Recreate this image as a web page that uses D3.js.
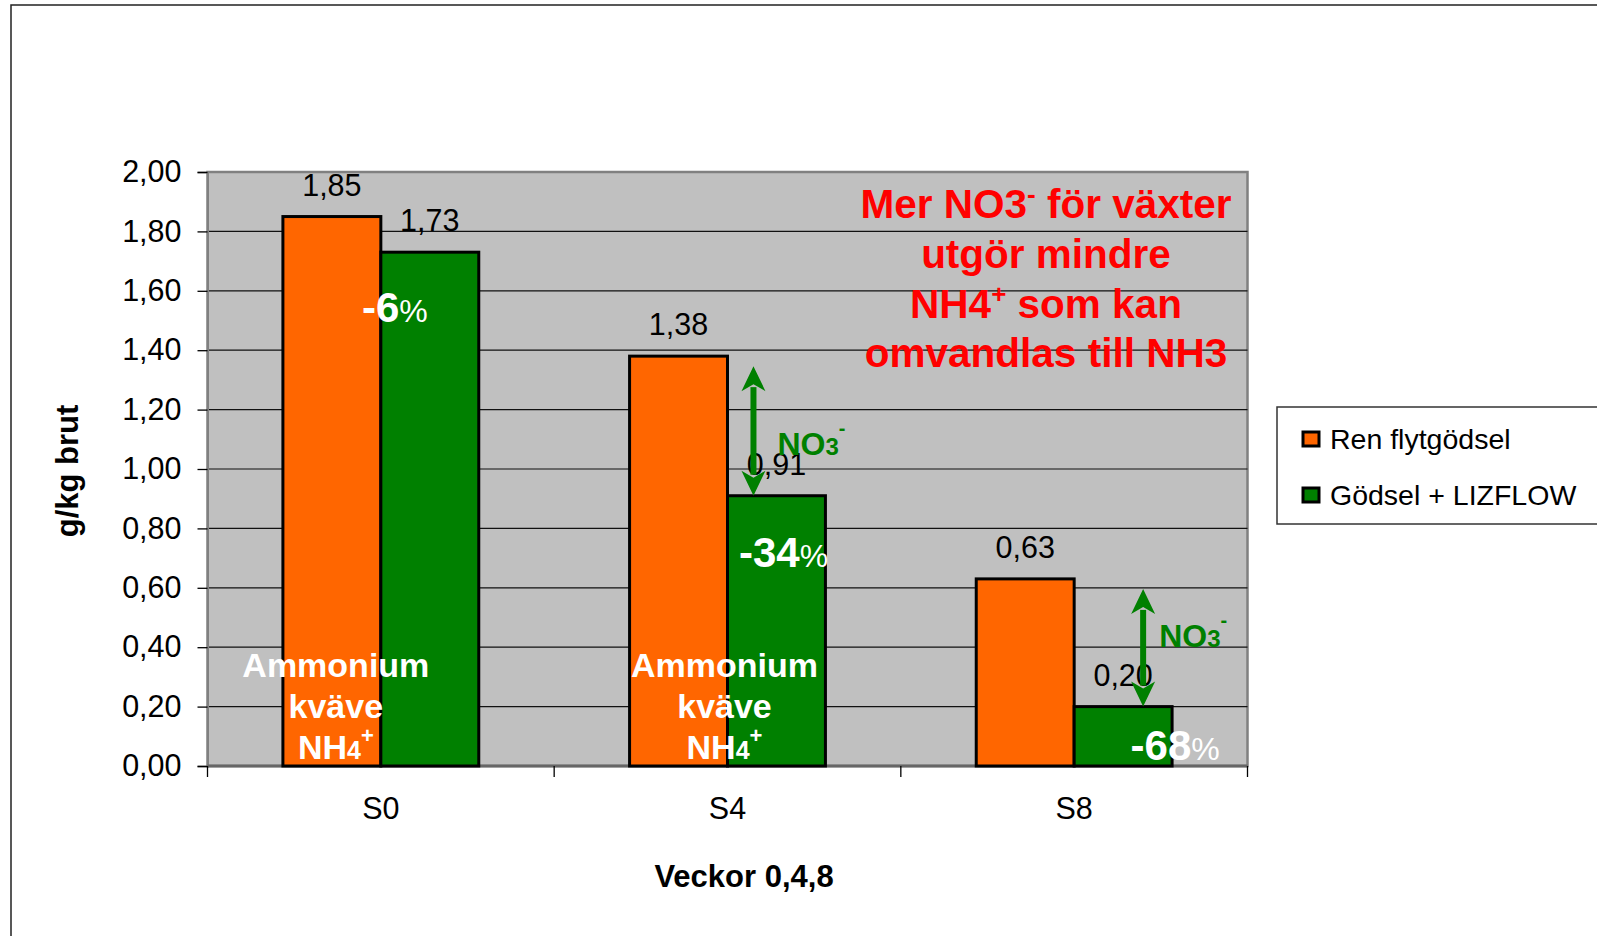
<!DOCTYPE html>
<html>
<head>
<meta charset="utf-8">
<script src="https://cdn.jsdelivr.net/npm/d3@7"></script>
<style>
  body { margin: 0; background: #fff; }
  svg { display: block; font-family: "Liberation Sans", Arial, sans-serif; }
</style>
</head>
<body>
<svg id="chart" width="1597" height="936"></svg>
<script>
// data
const categories = ["S0", "S4", "S8"];
const seriesNames = ["Ren flytgödsel", "Gödsel + LIZFLOW"];
const renValues = [1.85, 1.38, 0.63];
const lizflowValues = [1.73, 0.91, 0.20];
const yTicks = [0, 0.2, 0.4, 0.6, 0.8, 1.0, 1.2, 1.4, 1.6, 1.8, 2.0];
const changeLabels = ["-6", "-34", "-68"];
const colors = ["#ff6600", "#008000"];

const svg = d3.select("#chart");
const margin = { top: 172, left: 207.5, right: 1247.5, bottom: 766 };

// outer chart frame
svg.append("rect")
    .attr("x", 11).attr("y", 5)
    .attr("width", 1700).attr("height", 1000)
    .attr("fill", "#fff")
    .attr("stroke", "#222")
    .attr("stroke-width", 1.5);

const x = d3.scaleBand()
    .domain(categories)
    .range([margin.left, margin.right])
    .padding(0);

const xs = d3.scaleBand()
    .domain(seriesNames)
    .range([0, x.bandwidth()])
    .paddingInner(0)
    .paddingOuter(0.77);

const y = d3.scaleLinear()
    .domain([0, 2])
    .range([margin.bottom, margin.top]);

// plot background
svg.append("rect")
    .attr("x", margin.left).attr("y", y(2))
    .attr("width", margin.right - margin.left)
    .attr("height", y(0) - y(2))
    .attr("fill", "#c0c0c0")
    .attr("stroke", "#808080")
    .attr("stroke-width", 2.5);

// gridlines
svg.append("g")
    .selectAll("line")
    .data(yTicks.filter(d => d > 0 && d < 2))
    .join("line")
    .attr("x1", margin.left).attr("x2", margin.right)
    .attr("y1", d => y(d)).attr("y2", d => y(d))
    .attr("stroke", "#111")
    .attr("stroke-width", 1.2);

// y axis
const fmt = d => d3.format(".2f")(d).replace(".", ",");
svg.append("g")
    .attr("transform", `translate(${margin.left},0)`)
    .call(d3.axisLeft(y).tickValues(yTicks).tickFormat(fmt).tickSize(10).tickPadding(16))
    .call(g => g.select(".domain").attr("stroke", "#808080").attr("stroke-width", 2))
    .call(g => g.selectAll(".tick line").attr("stroke", "#000").attr("stroke-width", 1.3))
    .call(g => g.selectAll("text")
        .style("font-size", "30.5px")
        .style("font-family", "Liberation Sans, Arial, sans-serif")
        .attr("fill", "#000"));

// x axis ticks at band edges + labels
const xAxis = svg.append("g").attr("transform", `translate(0,${y(0)})`);
xAxis.append("line")
    .attr("x1", margin.left).attr("x2", margin.right)
    .attr("stroke", "#666").attr("stroke-width", 3);
xAxis.selectAll("line.tk")
    .data(categories.map(c => x(c)).concat([margin.right]))
    .join("line")
    .attr("class", "tk")
    .attr("x1", d => d).attr("x2", d => d)
    .attr("y1", 0).attr("y2", 11)
    .attr("stroke", "#000").attr("stroke-width", 1.3);
xAxis.selectAll("text")
    .data(categories)
    .join("text")
    .attr("x", d => x(d) + x.bandwidth() / 2)
    .attr("y", 53)
    .attr("text-anchor", "middle")
    .style("font-size", "30.5px")
    .text(d => d);

// bars
const seriesValues = [renValues, lizflowValues];
seriesNames.forEach((name, si) => {
    const g = svg.append("g");
    g.selectAll("rect")
        .data(seriesValues[si])
        .join("rect")
        .attr("x", (d, i) => x(categories[i]) + xs(name))
        .attr("y", d => y(d))
        .attr("width", xs.bandwidth())
        .attr("height", d => y(0) - y(d))
        .attr("fill", colors[si])
        .attr("stroke", "#000")
        .attr("stroke-width", 3);
});

// value labels
seriesNames.forEach((name, si) => {
    svg.append("g")
        .selectAll("text")
        .data(seriesValues[si])
        .join("text")
        .attr("x", (d, i) => x(categories[i]) + xs(name) + xs.bandwidth() / 2)
        .attr("y", d => y(d) - 21)
        .attr("text-anchor", "middle")
        .style("font-size", "30.5px")
        .attr("fill", "#000")
        .text(d => fmt(d));
});

// axis titles
svg.append("text")
    .attr("x", 744).attr("y", 887)
    .attr("text-anchor", "middle")
    .style("font-size", "31px").style("font-weight", "bold")
    .text("Veckor 0,4,8");

svg.append("text")
    .attr("transform", "translate(78,471) rotate(-90)")
    .attr("text-anchor", "middle")
    .style("font-size", "31px").style("font-weight", "bold")
    .text("g/kg brut");

// "Ammonium kväve NH4+" notes inside S0 and S4
const ammoniumNotes = [{ cat: "S0", dx: -45 }, { cat: "S4", dx: -3 }];
ammoniumNotes.forEach(n => {
    const cx = x(n.cat) + x.bandwidth() / 2 + n.dx;
    const t = svg.append("text")
        .attr("text-anchor", "middle")
        .attr("fill", "#fff")
        .style("font-size", "34px").style("font-weight", "bold");
    t.append("tspan").attr("x", cx).attr("y", y(0.30)).text("Ammonium");
    t.append("tspan").attr("x", cx).attr("y", y(0.30) + 41).text("kväve");
    const l3 = svg.append("text")
        .attr("x", cx).attr("y", y(0.30) + 82)
        .attr("text-anchor", "middle")
        .attr("fill", "#fff")
        .style("font-size", "34px").style("font-weight", "bold");
    l3.append("tspan").text("NH");
    l3.append("tspan").style("font-size", "25px").text("4");
    l3.append("tspan").attr("dy", -16).style("font-size", "22px").text("+");
});

// percentage change labels
const changePos = [{ dx: 14, v: 1.495 }, { dx: 56, v: 0.67 }, { dx: 101, v: 0.02 }];
changeLabels.forEach((lab, i) => {
    const t = svg.append("text")
        .attr("x", x(categories[i]) + x.bandwidth() / 2 + changePos[i].dx)
        .attr("y", y(changePos[i].v))
        .attr("text-anchor", "middle")
        .attr("fill", "#fff");
    t.append("tspan").style("font-size", "42px").style("font-weight", "bold").text(lab);
    t.append("tspan").style("font-size", "32px").text("%");
});

// NO3- arrows between series in S4 and S8
const arrowCats = [{ i: 1, dx: -23, ldx: 24, lv: 1.047 }, { i: 2, dx: 20, ldx: 16, lv: 0.40 }];
const green = colors[1];
arrowCats.forEach(a => {
    const ax = x(categories[a.i]) + xs(seriesNames[1]) + xs.bandwidth() / 2 + a.dx;
    const yTop = y(renValues[a.i]) + 10;
    const yBot = y(lizflowValues[a.i]);
    const hw = 12, hh = 25;
    svg.append("line")
        .attr("x1", ax).attr("x2", ax)
        .attr("y1", yTop + hh - 4).attr("y2", yBot - hh + 4)
        .attr("stroke", green).attr("stroke-width", 6);
    svg.append("path")
        .attr("d", `M${ax},${yTop} L${ax + hw},${yTop + hh} L${ax},${yTop + hh - 7} L${ax - hw},${yTop + hh} Z`)
        .attr("fill", green);
    svg.append("path")
        .attr("d", `M${ax},${yBot} L${ax + hw},${yBot - hh} L${ax},${yBot - hh + 7} L${ax - hw},${yBot - hh} Z`)
        .attr("fill", green);
    const t = svg.append("text")
        .attr("x", ax + a.ldx).attr("y", y(a.lv))
        .attr("fill", green)
        .style("font-weight", "bold");
    t.append("tspan").style("font-size", "32px").text("NO");
    t.append("tspan").style("font-size", "24px").text("3");
    t.append("tspan").attr("dy", -20).style("font-size", "20px").text("-");
});

// red annotation
const noteX = 1046;
const red = svg.append("g")
    .attr("fill", "#ff0000")
    .style("font-size", "40.5px").style("font-weight", "bold")
    .attr("text-anchor", "middle");
const r1 = red.append("text").attr("x", noteX).attr("y", 218);
r1.append("tspan").text("Mer NO3");
r1.append("tspan").attr("dy", -15).style("font-size", "26px").text("-");
r1.append("tspan").attr("dy", 15).text(" för växter");
red.append("text").attr("x", noteX).attr("y", 268).text("utgör mindre");
const r3 = red.append("text").attr("x", noteX).attr("y", 318);
r3.append("tspan").text("NH4");
r3.append("tspan").attr("dy", -15).style("font-size", "26px").text("+");
r3.append("tspan").attr("dy", 15).text(" som kan");
red.append("text").attr("x", noteX).attr("y", 367).text("omvandlas till NH3");

// legend
const legend = svg.append("g");
legend.append("rect")
    .attr("x", 1277).attr("y", 407)
    .attr("width", 400).attr("height", 117)
    .attr("fill", "#fff")
    .attr("stroke", "#333").attr("stroke-width", 1.5);
seriesNames.forEach((name, i) => {
    const ly = 439 + i * 56;
    legend.append("rect")
        .attr("x", 1303).attr("y", ly - 7)
        .attr("width", 16).attr("height", 14)
        .attr("fill", colors[i])
        .attr("stroke", "#000").attr("stroke-width", 3);
    legend.append("text")
        .attr("x", 1330).attr("y", ly)
        .attr("dy", "0.35em")
        .style("font-size", "28.5px")
        .text(name);
});
</script>
</body>
</html>
